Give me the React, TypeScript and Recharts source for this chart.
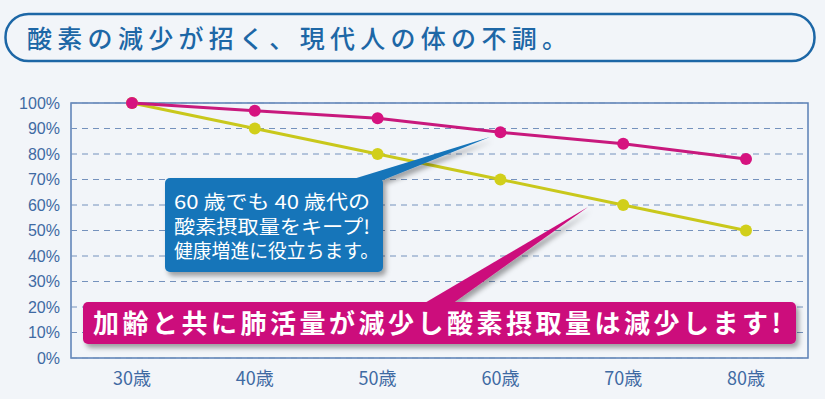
import React from 'react';
import { LineChart, Line, XAxis, YAxis, CartesianGrid } from 'recharts';

const ages = ['30歳', '40歳', '50歳', '60歳', '70歳', '80歳'];
// 酸素摂取量（30歳を100%とした割合）
const withTraining = [100, 97, 94, 88.5, 84, 78];
const normalDecline = [100, 90, 80, 70, 60, 50];
const yTicks = [0, 10, 20, 30, 40, 50, 60, 70, 80, 90, 100];

const titleText = '酸素の減少が招く、現代人の体の不調。';
const blueNote = ['60 歳でも 40 歳代の', '酸素摂取量をキープ!', '健康増進に役立ちます。'];
const pinkNote = '加齢と共に肺活量が減少し酸素摂取量は減少します!';

const W = 825;
const H = 399;
const BG = '#f2f5f9';
const AXIS_BLUE = '#3f6aa3';
const MAGENTA = '#c8197d';
const YELLOW = '#c9c81c';
const FONT = '"Noto Sans CJK JP", "Noto Sans", sans-serif';

const chartData = ages.map((age, i) => ({
  age,
  keep: withTraining[i],
  decline: normalDecline[i],
}));

// グラフの枠（プロット領域の外枠）
const Frame: React.FC = () => (
  <svg width={W} height={H} style={{ position: 'absolute', left: 0, top: 0 }}>
    <rect x={71} y={103} width={737} height={255} fill="none" stroke="#5a7fb5" strokeWidth={1.5} />
  </svg>
);

const Overlay: React.FC = () => (
  <svg
    width={W}
    height={H}
    style={{ position: 'absolute', left: 0, top: 0, pointerEvents: 'none' }}
  >
    <defs>
      <filter id="shadow" x="-10%" y="-30%" width="130%" height="170%">
        <feDropShadow dx="3" dy="4" stdDeviation="2.5" floodColor="#000" floodOpacity="0.35" />
      </filter>
    </defs>

    {/* タイトル枠 */}
    <rect x={5.5} y={14} width={809} height={47} rx={23} fill="none" stroke="#1d67a6" strokeWidth={2.5} />
    <text
      x={27}
      y={47.5}
      fontSize={25}
      fontWeight={500}
      fill="#1d67a6"
      fontFamily={FONT}
      textLength={540}
      lengthAdjust="spacing"
    >
      {titleText}
    </text>

    {/* 青い吹き出し */}
    <g filter="url(#shadow)">
      <polygon points="350,180 383,180 490,137" fill="#1674b9" />
      <rect x={165} y={178} width={218} height={94} rx={5} fill="#1674b9" />
    </g>
    {blueNote.map((line, i) => (
      <text
        key={i}
        x={174}
        y={209 + i * 24.5}
        fontSize={19}
        fontWeight={400}
        fill="#fff"
        fontFamily={FONT}
        textLength={[196, 196, 205][i]}
        lengthAdjust="spacingAndGlyphs"
      >
        {line}
      </text>
    ))}

    {/* ピンクの吹き出し */}
    <g filter="url(#shadow)">
      <polygon points="423,304 452,304 588,207" fill="#cc0d7c" />
      <rect x={83} y={302} width={713} height={42} rx={5} fill="#cc0d7c" />
    </g>
    <text
      x={93}
      y={333}
      fontSize={26}
      fontWeight={700}
      fill="#fff"
      fontFamily={FONT}
      textLength={688}
      lengthAdjust="spacing"
    >
      {pinkNote}
    </text>
  </svg>
);

const App: React.FC = () => {
  return (
    <div style={{ position: 'absolute', left: 0, top: 0, width: W, height: H, background: BG }}>
      <Frame />
      <div style={{ position: 'absolute', left: 0, top: 0 }}>
        <LineChart
          width={W}
          height={H}
          data={chartData}
          margin={{ top: 103, right: 17, bottom: 11, left: 0 }}
        >
          <CartesianGrid vertical={false} stroke="#7592bd" strokeDasharray="6 5" strokeWidth={1} />
          <XAxis
            dataKey="age"
            padding={{ left: 61, right: 62 }}
            axisLine={false}
            tickLine={false}
            tickSize={0}
            tickMargin={14}
            height={30}
            interval={0}
            tick={{ fill: AXIS_BLUE, fontSize: 18, fontFamily: FONT }}
          />
          <YAxis
            domain={[0, 100]}
            ticks={yTicks}
            tickFormatter={(v) => `${v}%`}
            axisLine={false}
            tickLine={false}
            tickSize={0}
            tickMargin={11}
            width={71}
            interval={0}
            tick={{ fill: AXIS_BLUE, fontSize: 16, fontFamily: '"Liberation Sans", Arial, sans-serif' }}
          />
          <Line
            type="linear"
            dataKey="decline"
            stroke={YELLOW}
            strokeWidth={3}
            dot={{ r: 6, fill: '#d1cf1b', stroke: 'none' }}
            activeDot={false}
            isAnimationActive={false}
          />
          <Line
            type="linear"
            dataKey="keep"
            stroke={MAGENTA}
            strokeWidth={3}
            dot={{ r: 6, fill: '#d6137f', stroke: 'none' }}
            activeDot={false}
            isAnimationActive={false}
          />
        </LineChart>
      </div>
      <Overlay />
    </div>
  );
};

export default App;
